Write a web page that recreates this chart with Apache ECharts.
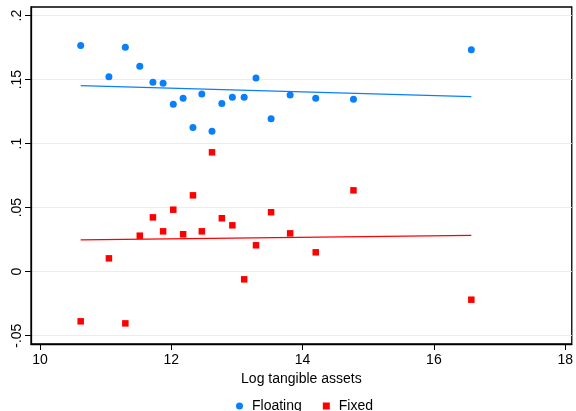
<!DOCTYPE html>
<html>
<head>
<meta charset="utf-8">
<script src="https://cdn.jsdelivr.net/npm/echarts@6/dist/echarts.min.js"></script>
<style>html,body{margin:0;padding:0;background:#fff}#c{width:576px;height:411px}</style>
</head>
<body>
<div id="c"></div>
<script>
// Data
var xVals = [10.62, 11.05, 11.30, 11.52, 11.72, 11.875, 12.03, 12.18, 12.33, 12.465, 12.62, 12.77, 12.93, 13.11, 13.29, 13.52, 13.81, 14.20, 14.775, 16.57];
var floating = [0.1766, 0.1523, 0.1752, 0.1604, 0.1479, 0.1471, 0.1307, 0.1354, 0.1125, 0.1388, 0.1096, 0.1313, 0.1362, 0.1362, 0.1513, 0.1195, 0.1380, 0.1354, 0.1346, 0.1734];
var fixed = [-0.0388, 0.0104, -0.0404, 0.0281, 0.0424, 0.0315, 0.0484, 0.0292, 0.0596, 0.0315, 0.0932, 0.0417, 0.0362, -0.0060, 0.0206, 0.0464, 0.0299, 0.0151, 0.0635, -0.0219];
var fitX = [10.62, 16.57];
var fitFloating = [0.1453, 0.1367];
var fitFixed = [0.0248, 0.0284];
var xTicks = [10, 12, 14, 16, 18];
var yTicks = [-0.05, 0, 0.05, 0.1, 0.15, 0.2];
var yTickLabels = ['-.05', '0', '.05', '.1', '.15', '.2'];
var seriesNames = ['Floating', 'Fixed'];
var xTitle = 'Log tangible assets';

function pairs(xs, ys) { return xs.map(function (x, i) { return [x, ys[i]]; }); }

var BLUE = '#0a7ffa', RED = '#ff0000';
var FONT = 'Liberation Sans, Arial, Helvetica, sans-serif';

var chart = echarts.init(document.getElementById('c'), null, {renderer: 'canvas'});
chart.setOption({
  animation: false,
  backgroundColor: '#fff',
  textStyle: {fontFamily: FONT},
  grid: {left: 31, right: 4, top: 7, bottom: 67, show: true, borderColor: '#000', borderWidth: 1.3, backgroundColor: 'transparent'},
  xAxis: {
    type: 'value', min: 9.863, max: 18.1,
    name: xTitle, nameLocation: 'middle', nameGap: 19,
    nameTextStyle: {fontSize: 14, color: '#000', fontFamily: FONT},
    axisLine: {show: true, onZero: false, lineStyle: {color: '#000', width: 1.3}},
    axisTick: {show: true, length: 6, lineStyle: {color: '#000'}, customValues: xTicks},
    axisLabel: {customValues: xTicks, fontSize: 14, color: '#000', margin: 9, fontFamily: FONT},
    splitLine: {show: false}
  },
  yAxis: {
    type: 'value', min: -0.0565, max: 0.2067,
    axisLine: {show: true, onZero: false, lineStyle: {color: '#000', width: 1.3}},
    axisTick: {show: true, length: 6, lineStyle: {color: '#000'}, customValues: yTicks},
    axisLabel: {customValues: yTicks, fontSize: 14, color: '#000', margin: 7, rotate: 90, fontFamily: FONT,
      formatter: function (v) { var i = yTicks.findIndex(function (t) { return Math.abs(t - v) < 1e-9; }); return i >= 0 ? yTickLabels[i] : ''; }},
    splitLine: {show: true, lineStyle: {color: '#e8eff2', width: 1.2}}
  },
  legend: {
    data: [{name: seriesNames[0], icon: 'circle'}, {name: seriesNames[1], icon: 'rect'}],
    left: 231, top: 394, itemWidth: 7, itemHeight: 7, itemGap: 21,
    textStyle: {fontSize: 14, color: '#000', fontFamily: FONT, padding: [0, 0, 0, 4]}
  },
  series: [
    {name: seriesNames[0], type: 'scatter', symbol: 'circle', symbolSize: 7, itemStyle: {color: BLUE, opacity: 1}, data: pairs(xVals, floating), z: 3},
    {name: seriesNames[1], type: 'scatter', symbol: 'rect', symbolSize: 6.5, itemStyle: {color: RED, opacity: 1}, data: pairs(xVals, fixed), z: 3},
    {name: 'fitFloating', type: 'line', symbol: 'none', lineStyle: {color: BLUE, width: 1.3}, data: pairs(fitX, fitFloating), z: 4},
    {name: 'fitFixed', type: 'line', symbol: 'none', lineStyle: {color: RED, width: 1.3}, data: pairs(fitX, fitFixed), z: 4}
  ]
});
</script>
</body>
</html>
